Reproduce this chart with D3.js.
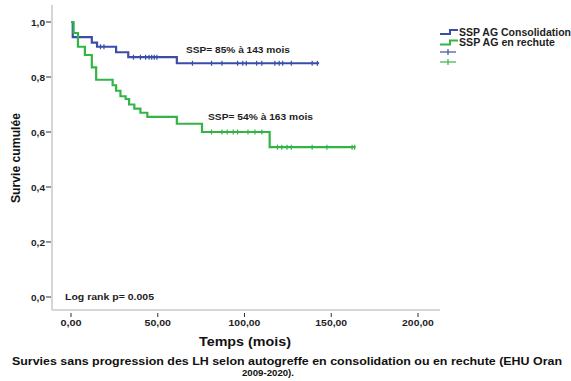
<!DOCTYPE html>
<html>
<head>
<meta charset="utf-8">
<script src="https://cdn.jsdelivr.net/npm/d3@7/dist/d3.min.js"></script>
<style>
  html, body { margin: 0; padding: 0; background: #fff; }
  svg { display: block; font-family: "Liberation Sans", Arial, sans-serif; }
</style>
</head>
<body>
<svg id="chart" width="571" height="381"></svg>
<script>
// Kaplan-Meier steps: time (months) and cumulative survival after each drop
const consolidationTimes = [0, 1, 12, 15, 26, 33, 61, 143];
const consolidationSurv  = [1, 0.945, 0.925, 0.91, 0.89, 0.872, 0.85, 0.85];
const consolidationCensored = [17, 19, 36, 40, 43, 45, 46.5, 48, 49.5, 70, 81, 87, 96, 99, 101, 107, 110, 117.5, 120, 122, 127, 139, 142];

const rechuteTimes = [0, 1.5, 4, 8, 12, 14.5, 24, 26, 28.5, 31.5, 33.5, 36.5, 40, 44, 61, 75.5, 114.5, 164];
const rechuteSurv  = [1, 0.96, 0.91, 0.88, 0.835, 0.79, 0.77, 0.75, 0.73, 0.72, 0.70, 0.685, 0.67, 0.655, 0.63, 0.60, 0.545, 0.545];
const rechuteCensored = [81, 87, 90, 93.5, 96, 102, 106, 110, 119, 121.5, 124.5, 127, 139, 147.5, 162, 163.5];

const xTicks = [0, 50, 100, 150, 200];
const yTicks = [0, 0.2, 0.4, 0.6, 0.8, 1.0];
const seriesNames = ["SSP AG Consolidation", "SSP AG en rechute"];
const seriesColors = ["#3a4ea8", "#33b545"];

const svg = d3.select("#chart");
const x = d3.scaleLinear().domain([0, 200]).range([71, 418]);
const y = d3.scaleLinear().domain([0, 1]).range([297, 22]);

const fmt = v => v.toFixed(2).replace(".", ",");
const fmtY = v => v.toFixed(1).replace(".", ",");

// stretched bold text helper
function label(g, px, py, txt, size, width, anchor) {
  const t = g.append("text").attr("x", px).attr("y", py)
    .attr("font-size", size).attr("font-weight", "bold").attr("fill", "#1e1e1e")
    .attr("text-anchor", anchor || "start").text(txt);
  if (width) t.attr("textLength", width).attr("lengthAdjust", "spacingAndGlyphs");
  return t;
}

// axis frame (left and bottom only)
svg.append("line").attr("x1", 52).attr("x2", 52).attr("y1", 5).attr("y2", 310)
  .attr("stroke", "#c8c8c8").attr("stroke-width", 1.5);
svg.append("line").attr("x1", 52).attr("x2", 440).attr("y1", 310).attr("y2", 310)
  .attr("stroke", "#c8c8c8").attr("stroke-width", 1.5);

// y ticks
const yg = svg.append("g");
yTicks.forEach(t => {
  yg.append("line").attr("x1", 46).attr("x2", 51).attr("y1", y(t)).attr("y2", y(t))
    .attr("stroke", "#333").attr("stroke-width", 1);
  label(yg, 45, y(t) + 3.5, fmtY(t), 9.5, 14, "end");
});

// x ticks
const xg = svg.append("g");
xTicks.forEach(t => {
  xg.append("line").attr("x1", x(t)).attr("x2", x(t)).attr("y1", 313).attr("y2", 317)
    .attr("stroke", "#333").attr("stroke-width", 1);
  const s = fmt(t);
  label(xg, x(t), 325.5, s, 9.5, s.length * 5.3, "middle");
});

// axis titles
svg.append("text").attr("transform", "translate(20,158) rotate(-90)")
  .attr("text-anchor", "middle").attr("font-size", 12).attr("font-weight", "bold")
  .attr("fill", "#111").attr("textLength", 90).attr("lengthAdjust", "spacingAndGlyphs")
  .text("Survie cumulée");
label(svg, 245, 346, "Temps (mois)", 13, 92, "middle").attr("fill", "#111");

// caption
label(svg, 287, 365, "Survies sans progression des LH selon autogreffe en consolidation ou en rechute (EHU Oran", 10, 550, "middle").attr("fill", "#111");
label(svg, 268, 375.5, "2009-2020).", 9.5, 52, "middle").attr("fill", "#111");

// survival curves
const line = d3.line().x(d => x(d[0])).y(d => y(d[1])).curve(d3.curveStepAfter);
function survAt(times, surv, t) {
  let s = surv[0];
  for (let i = 0; i < times.length; i++) if (times[i] <= t) s = surv[i];
  return s;
}
const series = [
  { times: consolidationTimes, surv: consolidationSurv, cens: consolidationCensored, color: seriesColors[0] },
  { times: rechuteTimes, surv: rechuteSurv, cens: rechuteCensored, color: seriesColors[1] }
];
series.forEach(s => {
  const pts = s.times.map((t, i) => [t, s.surv[i]]);
  svg.append("path").datum(pts).attr("d", line).attr("fill", "none")
    .attr("stroke", s.color).attr("stroke-width", 2.2);
  svg.append("g").selectAll("line").data(s.cens).join("line")
    .attr("x1", d => x(d)).attr("x2", d => x(d))
    .attr("y1", d => y(survAt(s.times, s.surv, d)) - 2.5)
    .attr("y2", d => y(survAt(s.times, s.surv, d)) + 2.5)
    .attr("stroke", s.color).attr("stroke-width", 1.2);
});

// annotations
label(svg, 186, 52.5, "SSP= 85% à 143 mois", 9.5, 104);
label(svg, 208, 119.5, "SSP= 54% à 163 mois", 9.5, 105);
label(svg, 65, 299.5, "Log rank p= 0.005", 9.5, 89);

// legend
const lg = svg.append("g");
const legendWidths = [112, 96];
seriesNames.forEach((name, i) => {
  const cy = 32 + i * 10.5;
  lg.append("path")
    .attr("d", `M440,${cy + 2}H450V${cy - 2}H458`)
    .attr("fill", "none").attr("stroke", seriesColors[i]).attr("stroke-width", 2);
  label(lg, 459, cy + 3.5, name, 10, legendWidths[i]);
});
seriesColors.forEach((c, i) => {
  const cy = 52 + i * 10;
  lg.append("line").attr("x1", 440).attr("x2", 456).attr("y1", cy).attr("y2", cy)
    .attr("stroke", c).attr("stroke-width", 1.2);
  lg.append("line").attr("x1", 448).attr("x2", 448).attr("y1", cy - 3).attr("y2", cy + 3)
    .attr("stroke", c).attr("stroke-width", 1.2);
});
</script>
</body>
</html>
